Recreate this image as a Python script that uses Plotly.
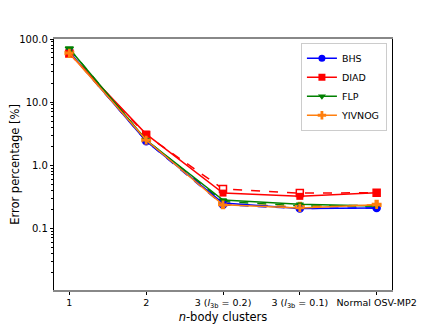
import plotly.graph_objects as go

clusters = ["1", "2", "3 (<i>l</i><sub>3b</sub> = 0.2)", "3 (<i>l</i><sub>3b</sub> = 0.1)", "Normal OSV-MP2"]

names = ["BHS", "DIAD", "FLP", "YIVNOG"]
bhs = [62, 2.4, 0.25, 0.205, 0.21]
diad = [59, 3.1, 0.36, 0.32, 0.365]
flp = [70, 2.5, 0.28, 0.24, 0.225]
yivnog = [60, 2.5, 0.235, 0.21, 0.235]

bhs_d = [62, 2.4, 0.235, 0.205, 0.21]
diad_d = [59, 3.0, 0.42, 0.36, 0.365]
flp_d = [70, 2.5, 0.265, 0.225, 0.225]
yivnog_d = [60, 2.5, 0.24, 0.22, 0.235]

colors = ["#0000ff", "#ff0000", "#008000", "#ff7f0e"]
symbols = ["circle", "square", "triangle-down", "cross"]

fig = go.Figure()

solid = [bhs, diad, flp, yivnog]
dashed = [bhs_d, diad_d, flp_d, yivnog_d]

for name, vals, c, s in zip(names, dashed, colors, symbols):
    fig.add_trace(go.Scatter(
        x=clusters, y=vals, mode="lines+markers", showlegend=False,
        line=dict(color=c, width=1.5, dash="dash"),
        marker=dict(symbol=s, size=7, color="white", line=dict(color=c, width=1.5)),
    ))

for name, vals, c, s in zip(names, solid, colors, symbols):
    fig.add_trace(go.Scatter(
        x=clusters, y=vals, mode="lines+markers", name=name,
        line=dict(color=c, width=1.5),
        marker=dict(symbol=s, size=7, color=c, line=dict(color=c, width=0)),
    ))

minor_vals = [m * 10 ** e for e in range(-2, 2) for m in range(2, 10)]

# page body has an 8px margin, so the figure is a bit smaller than the window
fig.update_layout(
    width=428, height=319,
    margin=dict(l=46, r=44, t=31, b=37),
    paper_bgcolor="white", plot_bgcolor="white",
    font=dict(family="DejaVu Sans", size=10, color="black"),
    legend=dict(
        x=0.985, y=0.985, xanchor="right", yanchor="top",
        bgcolor="rgba(255,255,255,0.8)", bordercolor="#cccccc", borderwidth=1,
        font=dict(size=9.5), itemwidth=30, tracegroupgap=0,
    ),
    xaxis=dict(
        range=[-0.2, 4.2], showline=True, linecolor="#888888", linewidth=1.5, mirror=True,
        ticks="outside", ticklen=3, tickcolor="black", showgrid=False, zeroline=False,
        automargin=False, tickfont=dict(size=9.5),
        title=dict(text="<i>n</i>-body clusters", font=dict(size=11.5), standoff=4),
    ),
    yaxis=dict(
        type="log", range=[-1.98, 2], showline=True, linecolor="black", linewidth=1.2, mirror=True,
        ticks="outside", ticklen=3, tickcolor="black", showgrid=False, zeroline=False,
        automargin=False, tickfont=dict(size=10),
        tickvals=[0.1, 1, 10, 100], ticktext=["0.1", "1.0", "10.0", "100.0"],
        minor=dict(ticks="outside", ticklen=2, tickcolor="black", tickvals=minor_vals, showgrid=False),
        title=dict(text="Error percentage [%]", font=dict(size=11.5), standoff=8),
    ),
)

fig.write_html("out.html")
